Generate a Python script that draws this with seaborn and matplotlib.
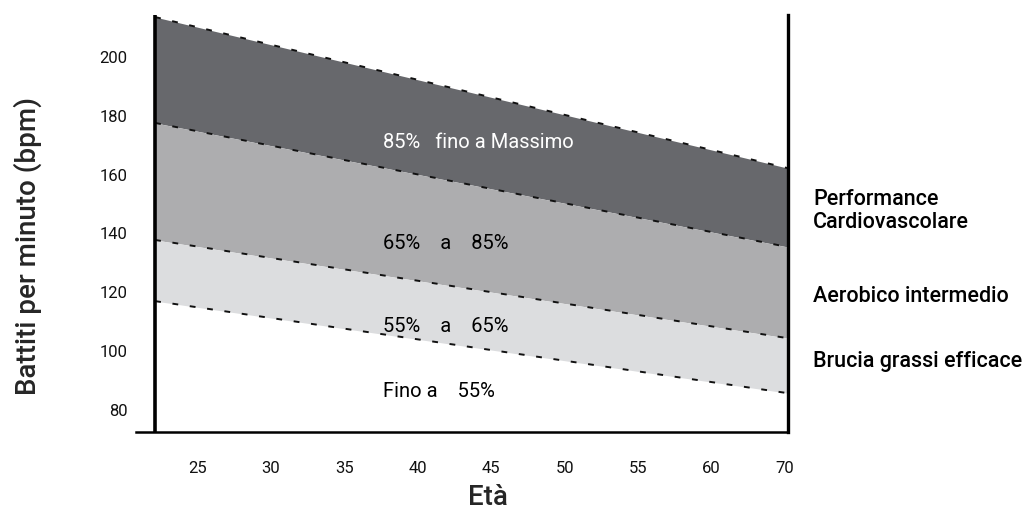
import numpy as np
import pandas as pd
from matplotlib import pyplot as plt
import seaborn as sns

# Heart-rate zones (bpm at left and right edge)
ages = [22.1, 65.2]
max_hr = [213.6, 162.2]
hr_85 = [177.6, 135.4]
hr_65 = [137.8, 104.4]
hr_55 = [117.0, 85.7]

x_ticks = [25, 30, 35, 40, 45, 50, 55, 60, 65]
x_labels = ['25', '30', '35', '40', '45', '50', '55', '60', '70']
y_ticks = [80, 100, 120, 140, 160, 180, 200]

band_labels = ['85%   fino a Massimo', '65%    a    85%', '55%    a    65%', 'Fino a    55%']
band_label_y = [171.1, 136.7, 108.5, 86.4]
band_label_color = ['white', 'black', 'black', 'black']

zone_names = ['Performance\nCardiovascolare', 'Aerobico intermedio', 'Brucia grassi efficace']
zone_y = [147.6, 118.7, 96.5]

sns.set_style('white')
plt.rcParams['font.family'] = ['Roboto', 'DejaVu Sans']

fig = plt.figure(figsize=(10.36, 5.17), dpi=100)
ax = fig.add_axes([0.1313, 0.1644, 0.6293, 0.8066])

# bands
ax.fill_between(ages, hr_85, max_hr, color='#67686c', lw=0)
ax.fill_between(ages, hr_65, hr_85, color='#adadaf', lw=0)
ax.fill_between(ages, hr_55, hr_65, color='#dcdddf', lw=0)

# dashed zone borders
for vals in [max_hr, hr_85, hr_65, hr_55]:
    sns.lineplot(x=ages, y=vals, ax=ax, color='#111111', lw=1.4,
                 linestyle=(0, (3, 6)))

# left border line
ax.axvline(ages[0], color='black', lw=2.6)

ax.set_xlim(20.8, 65.2)
ax.set_ylim(72.5, 214.3)

sns.despine(ax=ax, left=True, top=True, right=False)
ax.yaxis.set_ticks_position('left')
ax.spines['bottom'].set_linewidth(1.8)
ax.spines['right'].set_linewidth(2.4)
ax.spines['bottom'].set_color('black')
ax.spines['right'].set_color('black')

ax.set_xticks(x_ticks)
ax.set_xticklabels(x_labels, fontsize=12)
ax.set_xticks([30, 40, 55, 65], minor=True)
ax.set_yticks(y_ticks)
ax.set_yticklabels([str(v) for v in y_ticks], fontsize=12)
ax.tick_params(axis='x', which='major', length=0, pad=21, colors='#111111')
ax.tick_params(axis='x', which='minor', length=8.5, width=1.8, color='black', direction='out')
ax.tick_params(axis='y', which='major', length=0, pad=6, colors='#111111')

for lab, y, c in zip(band_labels, band_label_y, band_label_color):
    ax.text(37.6, y, lab, color=c, fontsize=14.5, va='center', ha='left')

for lab, y in zip(zone_names, zone_y):
    ax.text(66.9, y, lab, color='black', fontsize=15.5, fontweight='medium',
            va='center', ha='left', linespacing=1.15, clip_on=False)

ax.set_xlabel('Età', fontsize=20, fontweight='medium')
ax.set_ylabel('Battiti per minuto (bpm)', fontsize=20, fontweight='medium')
ax.xaxis.set_label_coords(0.54, -0.125)
ax.yaxis.set_label_coords(-0.144, 0.445)

fig.savefig('out.png', dpi=100)
